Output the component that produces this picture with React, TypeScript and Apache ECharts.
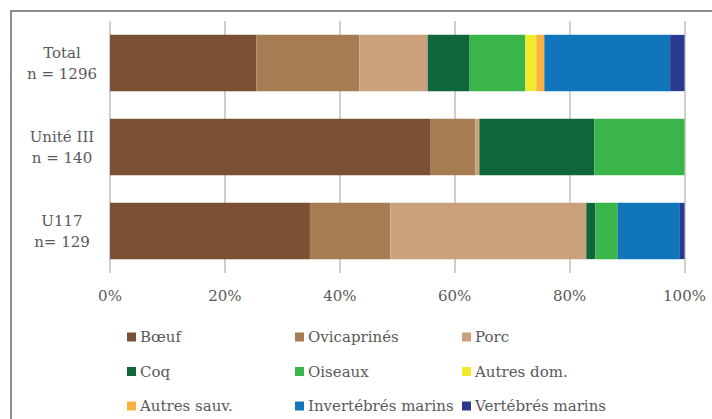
import React, { useEffect, useRef } from "react";
import * as echarts from "echarts";

const categories = ["Total\nn = 1296", "Unité III\nn = 140", "U117\nn= 129"];
const xTicks = [0, 20, 40, 60, 80, 100];

const boeuf = [25.5, 55.7, 34.8];
const ovicaprines = [17.9, 7.9, 14.0];
const porc = [11.9, 0.7, 34.1];
const coq = [7.3, 20.0, 1.6];
const oiseaux = [9.7, 15.7, 3.9];
const autresDom = [1.9, 0, 0];
const autresSauv = [1.4, 0, 0];
const invertebres = [21.9, 0, 10.8];
const vertebres = [2.5, 0, 0.8];

const seriesNames = [
  "Bœuf",
  "Ovicaprinés",
  "Porc",
  "Coq",
  "Oiseaux",
  "Autres dom.",
  "Autres sauv.",
  "Invertébrés marins",
  "Vertébrés marins",
];
const seriesValues = [boeuf, ovicaprines, porc, coq, oiseaux, autresDom, autresSauv, invertebres, vertebres];
const colors = ["#7B5034", "#A67C52", "#CBA17B", "#0F663A", "#3AB54A", "#F2EB2B", "#FBB040", "#1175BC", "#2B3990"];

const FONT = "DejaVu Serif";
const TXT = "#595959";

export default function App() {
  const ref = useRef<HTMLDivElement>(null);
  useEffect(() => {
    if (!ref.current) return;
    const chart = echarts.init(ref.current, null, { renderer: "svg" });
    const legendCols = [
      [seriesNames[0], seriesNames[3], seriesNames[6]],
      [seriesNames[1], seriesNames[4], seriesNames[7]],
      [seriesNames[2], seriesNames[5], seriesNames[8]],
    ];
    const legendLefts = [127, 295, 462];
    chart.setOption({
      animation: false,
      color: colors,
      textStyle: { fontFamily: FONT },
      grid: { left: 110, right: 27.5, top: 21, bottom: 146, containLabel: false },
      xAxis: {
        type: "value",
        min: xTicks[0],
        max: xTicks[xTicks.length - 1],
        interval: 20,
        axisLine: { show: false },
        axisTick: { show: false },
        splitLine: { show: true, lineStyle: { color: "#bfbfbf", width: 1.5 } },
        axisLabel: {
          formatter: "{value}%",
          color: TXT,
          fontFamily: FONT,
          fontSize: 15,
          margin: 15,
        },
      },
      yAxis: {
        type: "category",
        data: categories,
        inverse: true,
        axisLine: { show: false },
        axisTick: { show: false },
        axisLabel: {
          color: TXT,
          fontFamily: FONT,
          fontSize: 15,
          lineHeight: 21,
          align: "center",
          margin: 48,
        },
      },
      legend: legendCols.map((col, i) => ({
        data: col,
        orient: "vertical",
        left: legendLefts[i],
        top: 328,
        padding: 0,
        itemGap: 16.5,
        itemWidth: 9,
        itemHeight: 9,
        icon: "rect",
        selectedMode: false,
        textStyle: { color: TXT, fontFamily: FONT, fontSize: 15, lineHeight: 18, padding: [0, 0, 0, -1] },
      })),
      graphic: [
        {
          type: "rect",
          shape: { x: 11, y: 11, width: 800, height: 600 },
          style: { fill: "none", stroke: "#8c8c8c", lineWidth: 2 },
          silent: true,
        },
      ],
      series: seriesNames.map((name, i) => ({
        name,
        type: "bar",
        stack: "total",
        barWidth: "67%",
        data: seriesValues[i],
        itemStyle: { color: colors[i] },
      })),
    });
    return () => chart.dispose();
  }, []);
  return (
    <div
      ref={ref}
      style={{ position: "fixed", left: 0, top: 0, width: 712, height: 419, background: "#fff" }}
    />
  );
}
